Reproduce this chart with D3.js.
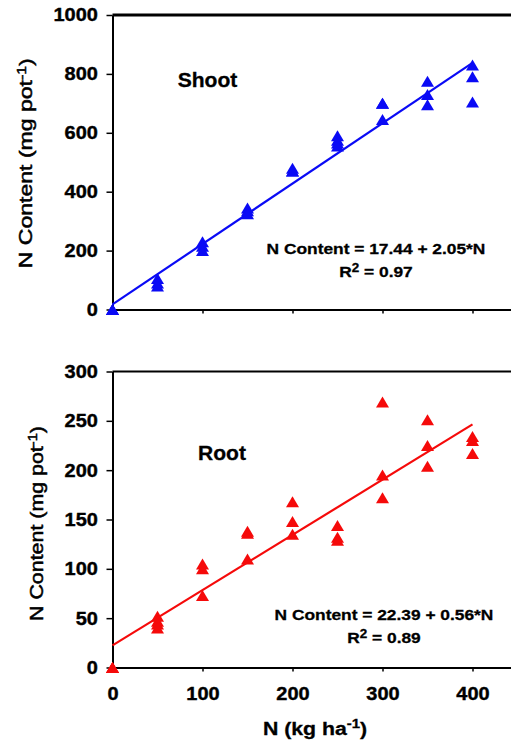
<!DOCTYPE html>
<html>
<head>
<meta charset="utf-8">
<script src="https://cdn.jsdelivr.net/npm/d3@7"></script>
<style>
  body { margin: 0; background: #fff; }
  svg { display: block; }
  text { font-family: "Liberation Sans", Arial, sans-serif; fill: #000; }
</style>
</head>
<body>
<svg id="chart" width="511" height="742"></svg>
<script>
// N rate (kg/ha) and N content (mg/pot) for each pot
var shootN = [0,0,0, 50,50,50, 100,100,100, 150,150,150, 200,200,200, 250,250,250,250, 300,300,300, 350,350,350, 400,400,400];
var shootContent = [0,0,0, 105,90,80, 230,215,200, 345,335,325, 480,470,470, 590,575,565,555, 700,700,645, 775,730,695, 830,790,705];

var rootN = [0,0,0, 50,50,50,50, 100,100,100, 150,150,150, 200,200,200, 250,250,250, 300,300,300, 350,350,350, 400,400,400];
var rootContent = [0,0,0, 52,47,44,40, 105,100,73, 138,136,110, 168,148,135, 144,132,129, 269,195,172, 251,225,204, 234,230,217];

// regression fits (shoot, root)
var fitIntercept = [17.44, 22.39];
var fitSlope = [2.05, 0.56];
var fitR2 = ["0.97", "0.89"];
var panelNames = ["Shoot", "Root"];

var xTicks = [0, 100, 200, 300, 400];
var shootTicks = [0, 200, 400, 600, 800, 1000];
var rootTicks = [0, 50, 100, 150, 200, 250, 300];

var svg = d3.select("#chart");
var font = '"Liberation Sans", Arial, sans-serif';

var x = d3.scaleLinear().domain([0, 450]).range([112.5, 517.5]);

// little helper for the wide-ish text of the original
function addText(g, tx, ty, sx, size, weight) {
  return g.append("text")
    .attr("transform", "translate(" + tx + "," + ty + ") scale(" + sx + ",1)")
    .attr("text-anchor", "middle")
    .style("font-size", size + "px")
    .style("font-weight", weight)
    .style("stroke", "#000").style("stroke-width", 0.3);
}

function tri(cx, cy) {
  var w = 6.5, h = 5.5;
  return "M" + cx + "," + (cy - h) + "L" + (cx + w) + "," + (cy + h) + "L" + (cx - w) + "," + (cy + h) + "Z";
}

function styleTicks(sel) {
  sel.selectAll(".tick text")
    .attr("transform", "scale(1.08,1)")
    .style("font-family", font)
    .style("font-size", "18.5px")
    .style("font-weight", "bold")
    .style("stroke", "#000").style("stroke-width", 0.4);
}

function drawPanel(cfg) {
  var y = d3.scaleLinear().domain(cfg.domain).range([cfg.bottom, cfg.top]);
  var g = svg.append("g");

  // top border
  g.append("line")
    .attr("x1", x(0)).attr("x2", 511)
    .attr("y1", cfg.top).attr("y2", cfg.top)
    .attr("stroke", "#000").attr("stroke-width", cfg.topWidth);

  var yAxis = g.append("g")
    .attr("transform", "translate(" + x(0) + ",0)")
    .call(d3.axisLeft(y).tickValues(cfg.ticks).tickFormat(d3.format("d"))
      .tickSize(6).tickSizeOuter(0).tickPadding(7.5));
  yAxis.select(".domain").attr("stroke-width", 2);
  yAxis.selectAll(".tick line").attr("stroke-width", 1.5);
  styleTicks(yAxis);

  var xAxis = d3.axisBottom(x).tickValues(xTicks).tickSize(4).tickSizeOuter(0).tickPadding(15.5);
  if (!cfg.xLabels) xAxis.tickFormat("");
  var xg = g.append("g")
    .attr("transform", "translate(0," + cfg.bottom + ")")
    .call(xAxis);
  xg.select(".domain").attr("stroke-width", 2);
  xg.selectAll(".tick line").attr("stroke-width", 1.5).filter(function(d) { return d === 0; }).remove();
  styleTicks(xg);

  // regression line
  var i = cfg.idx;
  g.append("line")
    .attr("x1", x(0)).attr("y1", y(fitIntercept[i]))
    .attr("x2", x(400)).attr("y2", y(fitIntercept[i] + fitSlope[i] * 400))
    .attr("stroke", cfg.color).attr("stroke-width", 2.2);

  g.append("g").selectAll("path")
    .data(cfg.xs.map(function(d, k) { return [d, cfg.ys[k]]; }))
    .enter().append("path")
    .attr("d", function(d) { return tri(x(d[0]), y(d[1])); })
    .attr("fill", cfg.color);

  addText(g, cfg.nameX, cfg.nameY, 1.08, 19.5, "bold").text(panelNames[i]);

  addText(g, cfg.eqX, cfg.eqY, 1.12, 15.5, "bold")
    .text("N Content = " + fitIntercept[i].toFixed(2) + " + " + fitSlope[i].toFixed(2) + "*N");
  var r = addText(g, cfg.eqX, cfg.eqY + 23, 1.12, 15.5, "bold");
  r.append("tspan").text("R");
  r.append("tspan").attr("dy", -5).style("font-size", "12px").text("2");
  r.append("tspan").attr("dy", 5).text(" = " + fitR2[i]);

  // y title
  var t = g.append("text")
    .attr("transform", "translate(" + cfg.titleX + "," + ((cfg.top + cfg.bottom) / 2 + cfg.titleShift) + ") rotate(-90)")
    .attr("text-anchor", "middle")
    .attr("textLength", cfg.titleLen)
    .attr("lengthAdjust", "spacingAndGlyphs")
    .style("font-size", "17.5px")
    .style("stroke", "#000").style("stroke-width", 0.5);
  t.append("tspan").text("N Content (mg pot");
  t.append("tspan").attr("dy", -6).style("font-size", "12px").text("-1");
  t.append("tspan").attr("dy", 6).text(")");
}

drawPanel({ idx: 0, domain: [0, 1000], ticks: shootTicks, top: 15, bottom: 309.5, topWidth: 3,
  xs: shootN, ys: shootContent, color: "#0a0af5", xLabels: false,
  nameX: 207.5, nameY: 87, eqX: 376, eqY: 254, titleX: 31.5, titleShift: 1, titleLen: 210 });

drawPanel({ idx: 1, domain: [0, 300], ticks: rootTicks, top: 371.5, bottom: 667.5, topWidth: 2,
  xs: rootN, ys: rootContent, color: "#f50a0a", xLabels: true,
  nameX: 222, nameY: 460, eqX: 384, eqY: 620, titleX: 42.5, titleShift: 4, titleLen: 195 });

// x title
var xt = addText(svg, 315, 735, 1.15, 18.5, "bold");
xt.append("tspan").text("N (kg ha");
xt.append("tspan").attr("dy", -7).style("font-size", "13px").text("-1");
xt.append("tspan").attr("dy", 7).text(")");
</script>
</body>
</html>
